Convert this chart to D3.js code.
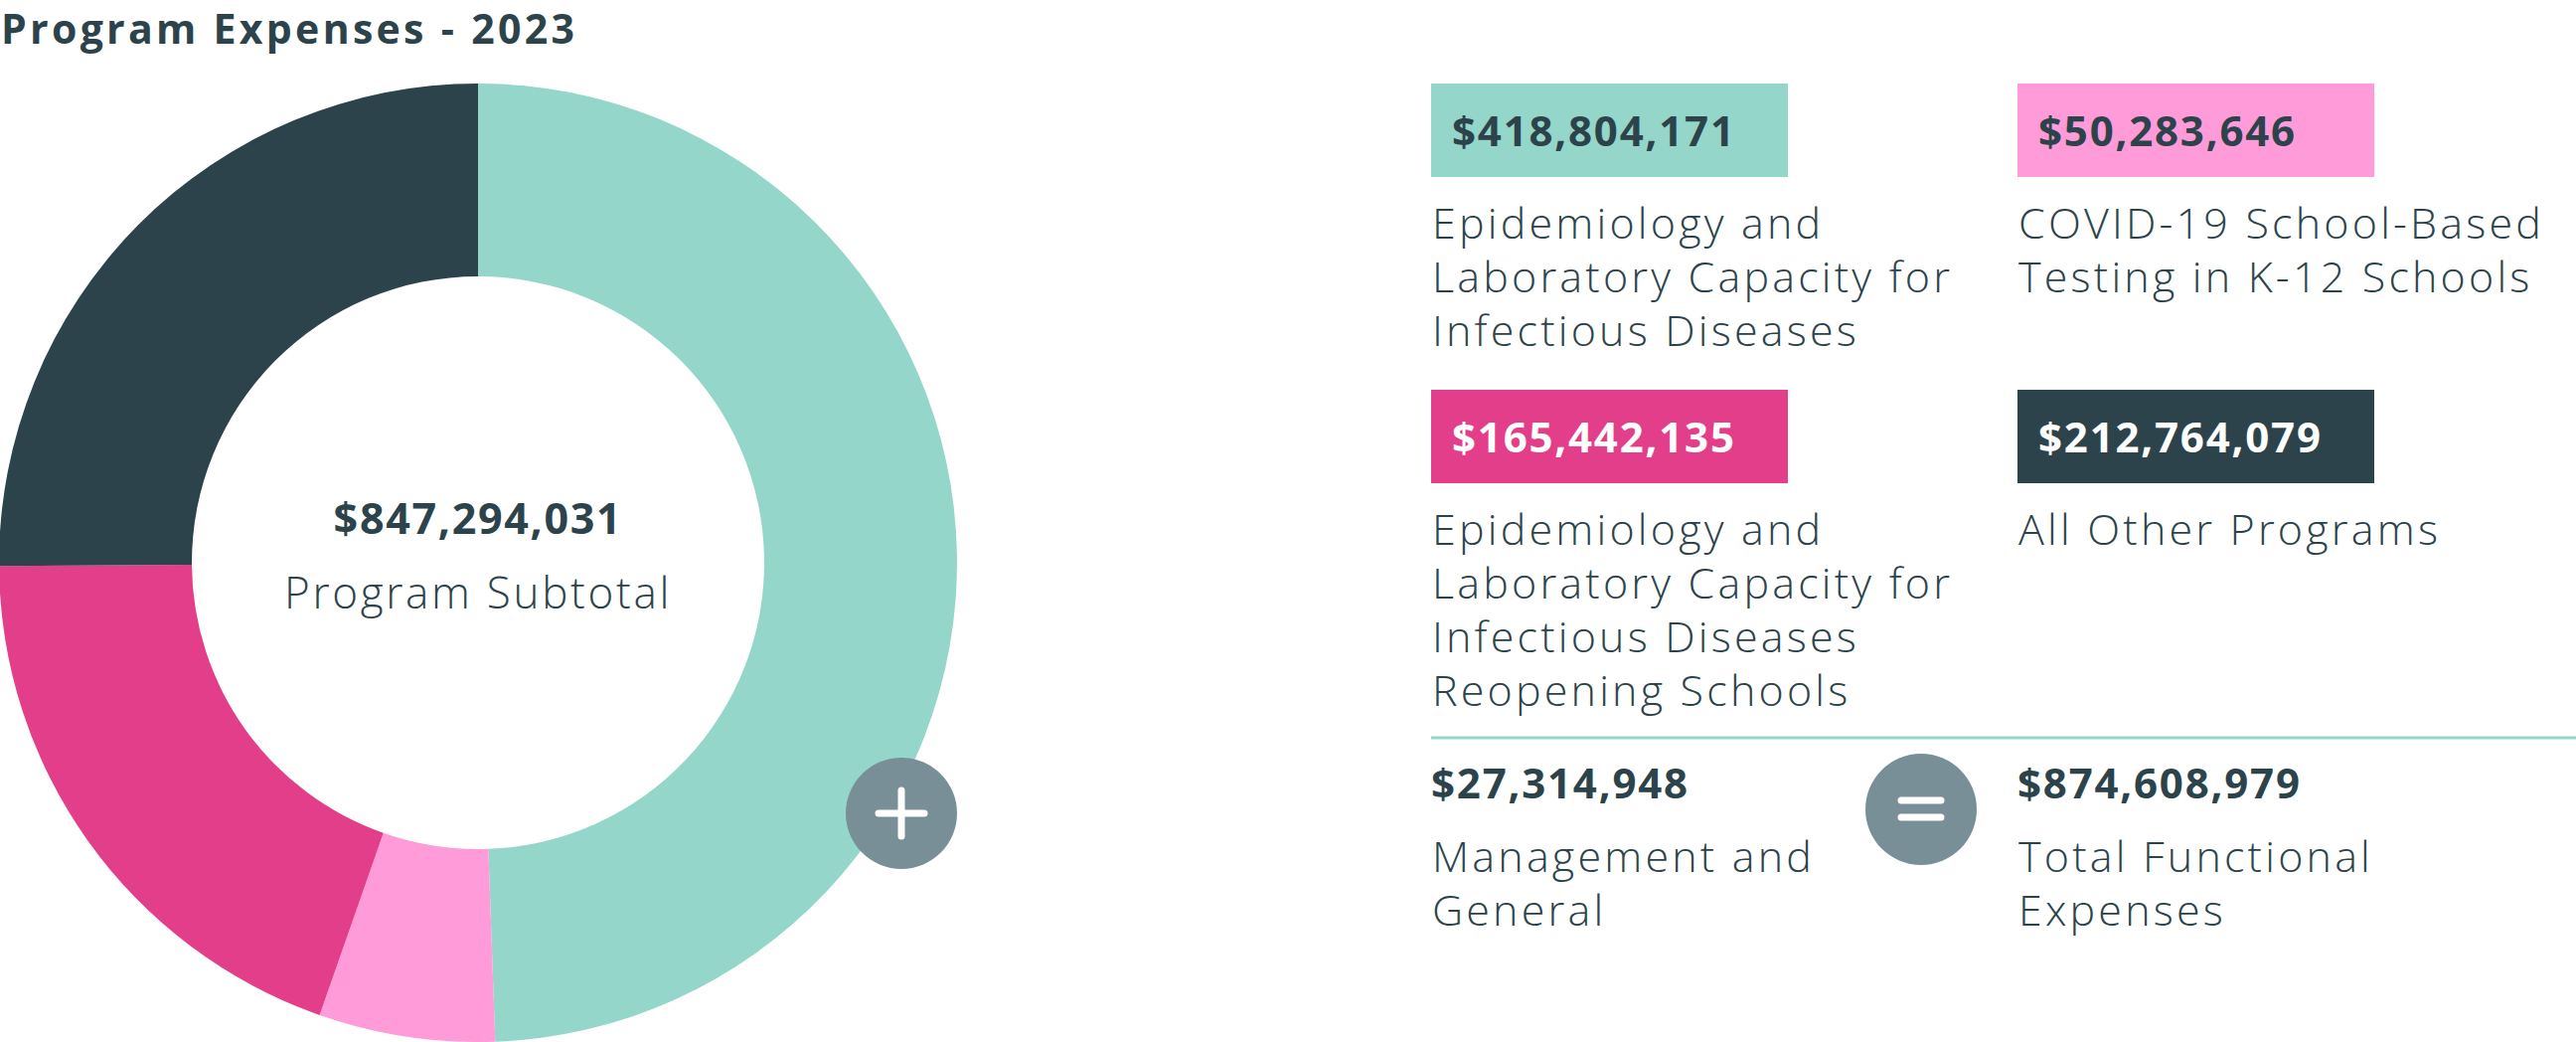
<!DOCTYPE html>
<html>
<head>
<meta charset="utf-8">
<script src="https://cdn.jsdelivr.net/npm/d3@7"></script>
<style>
  html, body { margin: 0; padding: 0; background: #ffffff; }
  svg { display: block; }
  text { font-family: "Open Sans", sans-serif; }
</style>
</head>
<body>
<svg id="chart" width="2592" height="1048"></svg>
<script>
// ---- data ----
const title = "Program Expenses - 2023";
const categories = [
  "Epidemiology and Laboratory Capacity for Infectious Diseases",
  "COVID-19 School-Based Testing in K-12 Schools",
  "Epidemiology and Laboratory Capacity for Infectious Diseases Reopening Schools",
  "All Other Programs"
];
const labelLines = [
  ["Epidemiology and", "Laboratory Capacity for", "Infectious Diseases"],
  ["COVID-19 School-Based", "Testing in K-12 Schools"],
  ["Epidemiology and", "Laboratory Capacity for", "Infectious Diseases", "Reopening Schools"],
  ["All Other Programs"]
];
const values = [418804171, 50283646, 165442135, 212764079];
const colors = ["#94d7ca", "#ff9bd8", "#e33e8a", "#2c434b"];
const valueTextColors = ["#2c434b", "#2c434b", "#ffffff", "#ffffff"];
const subtotalLabel = "Program Subtotal";
const mgmtLabel = ["Management and", "General"];
const mgmtValue = 27314948;
const totalLabel = ["Total Functional", "Expenses"];
const totalValue = 874608979;

const ink = "#2c434b";
const grey = "#788f98";
const fmt = d3.format("$,");

const valueFont = { size: 42, ls: 1.8 };
const labelFont = { size: 43, ls: 3.2 };

const svg = d3.select("#chart");

// title
svg.append("text")
  .attr("x", 1).attr("y", 44)
  .attr("font-size", 41).attr("font-weight", 700)
  .attr("letter-spacing", 3.3)
  .attr("fill", ink)
  .text(title);

// donut
const cx = 481, cy = 566, rOuter = 482, rInner = 288;
const pie = d3.pie().sort(null).value(d => d)(values);
const arc = d3.arc().innerRadius(rInner).outerRadius(rOuter);
const g = svg.append("g").attr("transform", `translate(${cx},${cy})`);
g.selectAll("path").data(pie).join("path")
  .attr("d", arc)
  .attr("fill", (d, i) => colors[i]);

const subtotal = d3.sum(values);
g.append("text")
  .attr("text-anchor", "middle").attr("y", -29)
  .attr("font-size", 43).attr("font-weight", 700).attr("letter-spacing", 1.7).attr("fill", ink)
  .text(fmt(subtotal));
g.append("text")
  .attr("text-anchor", "middle").attr("y", 46)
  .attr("font-size", 44).attr("font-weight", 300).attr("letter-spacing", 2.7).attr("fill", ink)
  .text(subtotalLabel);

// plus badge
const plus = svg.append("g").attr("transform", "translate(907,818)");
plus.append("circle").attr("r", 56).attr("fill", grey);
plus.append("line").attr("x1", -23).attr("x2", 23).attr("y1", 0).attr("y2", 0)
  .attr("stroke", "#fff").attr("stroke-width", 7).attr("stroke-linecap", "round");
plus.append("line").attr("x1", 0).attr("x2", 0).attr("y1", -23).attr("y2", 23)
  .attr("stroke", "#fff").attr("stroke-width", 7).attr("stroke-linecap", "round");

// cards
const colX = [1440, 2030];
const rowY = [84, 392];
const boxW = 359, boxH = 94, lineH = 54;
values.forEach((v, i) => {
  const x = colX[i % 2], y = rowY[Math.floor(i / 2)];
  const c = svg.append("g").attr("transform", `translate(${x},${y})`);
  c.append("rect").attr("width", boxW).attr("height", boxH).attr("fill", colors[i]);
  c.append("text").attr("x", 21).attr("y", 63)
    .attr("font-size", valueFont.size).attr("font-weight", 700)
    .attr("letter-spacing", valueFont.ls).attr("fill", valueTextColors[i])
    .text(fmt(v));
  const t = c.append("text").attr("font-size", labelFont.size).attr("font-weight", 300)
    .attr("letter-spacing", labelFont.ls).attr("fill", ink);
  labelLines[i].forEach((ln, j) => {
    t.append("tspan").attr("x", 1).attr("y", 156 + j * lineH).text(ln);
  });
});

// divider
svg.append("line").attr("x1", 1440).attr("x2", 2592).attr("y1", 742).attr("y2", 742)
  .attr("stroke", "#94d7ca").attr("stroke-width", 3);

// bottom figures
function figure(x, value, lines) {
  const c = svg.append("g").attr("transform", `translate(${x},0)`);
  c.append("text").attr("x", 0).attr("y", 803)
    .attr("font-size", valueFont.size).attr("font-weight", 700)
    .attr("letter-spacing", valueFont.ls).attr("fill", ink)
    .text(fmt(value));
  const t = c.append("text").attr("font-size", labelFont.size).attr("font-weight", 300)
    .attr("letter-spacing", labelFont.ls).attr("fill", ink);
  lines.forEach((ln, j) => t.append("tspan").attr("x", 1).attr("y", 877 + j * lineH).text(ln));
}
figure(1440, mgmtValue, mgmtLabel);
figure(2030, totalValue, totalLabel);

// equals badge
const eq = svg.append("g").attr("transform", "translate(1933,814)");
eq.append("circle").attr("r", 56).attr("fill", grey);
[-9, 8].forEach(dy => {
  eq.append("line").attr("x1", -20).attr("x2", 20).attr("y1", dy).attr("y2", dy)
    .attr("stroke", "#fff").attr("stroke-width", 7).attr("stroke-linecap", "round");
});
</script>
</body>
</html>
